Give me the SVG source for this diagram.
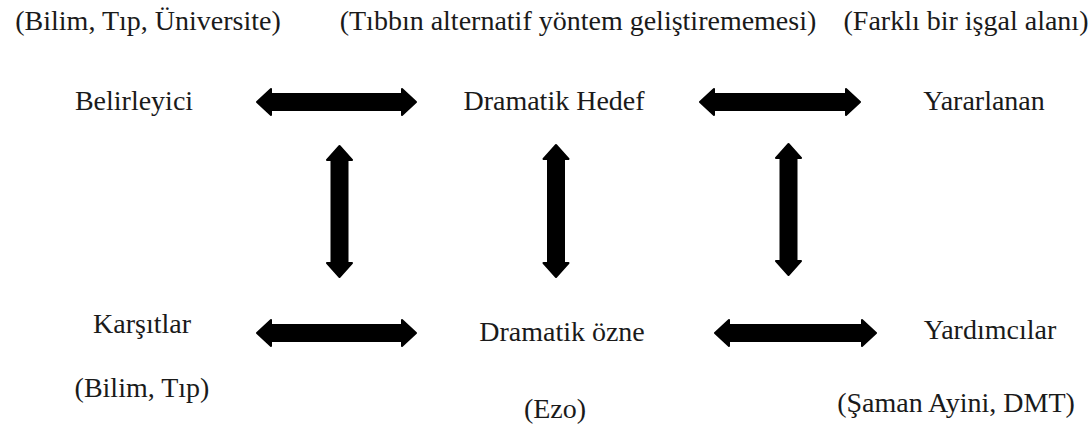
<svg xmlns="http://www.w3.org/2000/svg" width="1089" height="427" viewBox="0 0 1089 427">
<style>
  .t { font-family: 'Liberation Serif', serif; font-size: 28px; fill: #1a1a1a; text-anchor: middle; }
  .s { font-family: 'Liberation Serif', serif; }
  .arr { fill: #000; stroke: #000; stroke-width: 2; stroke-linejoin: round; }
</style>
<rect width="1089" height="427" fill="#fff"/>
<g id="connectors">
  <polygon class="arr" points="257,102 271,89 271,94 402,94 402,89 416,102 402,115 402,110 271,110 271,115"/>
  <polygon class="arr" points="700,102 714,89 714,94 846,94 846,89 860,102 846,115 846,110 714,110 714,115"/>
  <polygon class="arr" points="257,333 271,320 271,325 402,325 402,320 416,333 402,346 402,341 271,341 271,346"/>
  <polygon class="arr" points="715,333 729,320 729,325 862,325 862,320 876,333 862,346 862,341 729,341 729,346"/>
  <polygon class="arr" points="339.5,146 352,160 347.5,160 347.5,263 352,263 339.5,277 327,263 331.5,263 331.5,160 327,160"/>
  <polygon class="arr" points="556,145 568.5,159 564,159 564,263 568.5,263 556,277 543.5,263 548,263 548,159 543.5,159"/>
  <polygon class="arr" points="788.5,144 801,158 796.5,158 796.5,261 801,261 788.5,275 776,261 780.5,261 780.5,158 776,158"/>
</g>
<g id="note-belirleyici"><text class="t" x="148" y="30"><tspan class="s">(Bilim, Tıp, Üniversite)</tspan></text></g>
<g id="note-hedef"><text class="t" x="578" y="30"><tspan class="s">(Tıbbın alternatif yöntem geliştirememesi)</tspan></text></g>
<g id="note-yararlanan"><text class="t" x="966" y="30"><tspan class="s">(Farklı bir işgal alanı)</tspan></text></g>
<g id="belirleyici"><text class="t" x="134" y="110"><tspan class="s">Belirleyici</tspan></text></g>
<g id="dramatik-hedef"><text class="t" x="554" y="110"><tspan class="s">Dramatik Hedef</tspan></text></g>
<g id="yararlanan"><text class="t" x="984" y="110"><tspan class="s">Yararlanan</tspan></text></g>
<g id="karsitlar"><text class="t" x="142" y="333"><tspan class="s">Karşıtlar</tspan></text></g>
<g id="dramatik-ozne"><text class="t" x="562" y="341"><tspan class="s">Dramatik özne</tspan></text></g>
<g id="yardimcilar"><text class="t" x="990" y="339"><tspan class="s">Yardımcılar</tspan></text></g>
<g id="note-karsitlar"><text class="t" x="142" y="397"><tspan class="s">(Bilim, Tıp)</tspan></text></g>
<g id="note-ozne"><text class="t" x="555" y="418"><tspan class="s">(Ezo)</tspan></text></g>
<g id="note-yardimcilar"><text class="t" x="956" y="412"><tspan class="s">(Şaman Ayini, DMT)</tspan></text></g>
</svg>
